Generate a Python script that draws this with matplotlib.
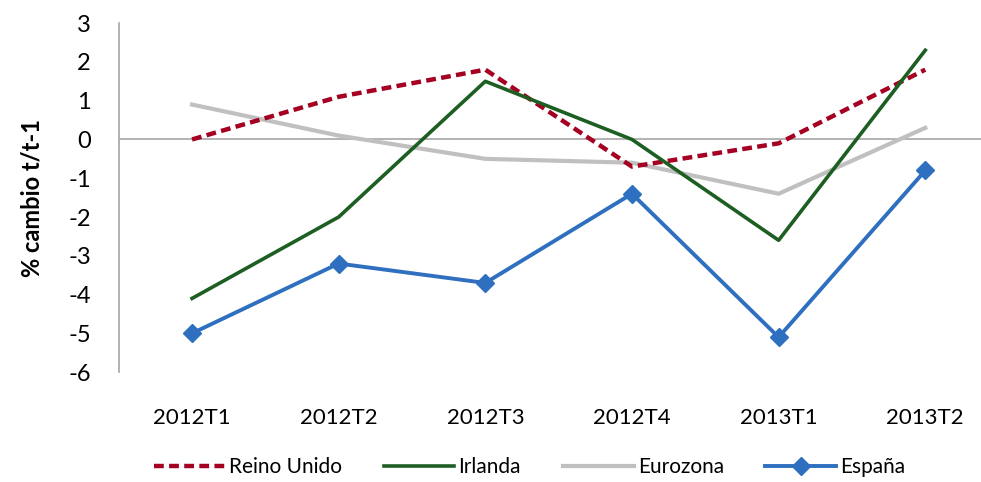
import matplotlib.pyplot as plt

categories = ['2012T1', '2012T2', '2012T3', '2012T4', '2013T1', '2013T2']
reino_unido = [0.0, 1.1, 1.8, -0.7, -0.1, 1.8]
irlanda = [-4.1, -2.0, 1.5, 0.0, -2.6, 2.3]
eurozona = [0.9, 0.1, -0.5, -0.6, -1.4, 0.3]
espana = [-5.0, -3.2, -3.7, -1.4, -5.1, -0.8]

plt.rcParams['font.family'] = ['Lato', 'DejaVu Sans']
plt.rcParams['axes.unicode_minus'] = False

fig = plt.figure(figsize=(9.81, 4.82), dpi=100)
ax = fig.add_axes([0.121, 0.228, 0.879, 0.724])

x = range(len(categories))
ax.axhline(0, color='#a6a6a6', linewidth=1.2, zorder=1)
ax.plot(x, reino_unido, color='#a50021', linewidth=3.2, linestyle=(0, (2.2, 1.2)),
        label='Reino Unido', zorder=3)
ax.plot(x, irlanda, color='#1d5e22', linewidth=2.6, label='Irlanda', zorder=3)
ax.plot(x, eurozona, color='#c0c0c0', linewidth=3.0, label='Eurozona', zorder=2)
ax.plot(x, espana, color='#2e6fbf', linewidth=2.8, marker='D', markersize=9,
        label='España', zorder=4)

ax.set_xlim(-0.5, 5.38)
ax.set_ylim(-6, 3)
ax.set_yticks(range(-6, 4))
ax.set_xticks(list(x))
ax.set_xticklabels(categories)
ax.tick_params(axis='y', length=0, labelsize=17, pad=20)
ax.tick_params(axis='x', length=0, labelsize=16, pad=26)

for side in ['top', 'right', 'bottom']:
    ax.spines[side].set_visible(False)
ax.spines['left'].set_color('#a6a6a6')
ax.spines['left'].set_linewidth(1.2)

ax.set_ylabel('% cambio t/t-1', fontsize=17, fontweight='bold', labelpad=18)

fig.legend(loc='center', bbox_to_anchor=(0.54, 0.031), ncol=4, frameon=False,
           fontsize=15, handlelength=3.4, handletextpad=0.2, columnspacing=2.0)

fig.savefig('out.png', dpi=100)
